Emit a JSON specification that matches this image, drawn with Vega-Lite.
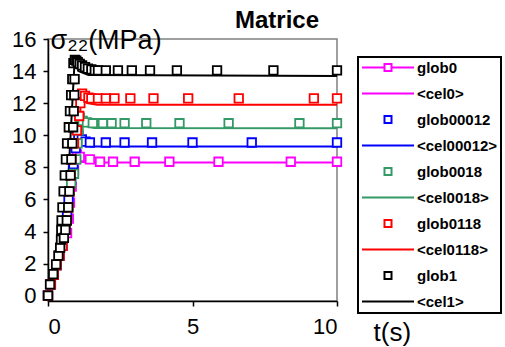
{
  "$schema": "https://vega.github.io/schema/vega-lite/v6.json",
  "width": 289,
  "height": 262,
  "autosize": {"type": "none"},
  "padding": {"left": 48, "top": 39, "right": 168, "bottom": 46},
  "background": "white",
  "config": {
    "font": "Liberation Sans",
    "view": {"stroke": "#808080", "strokeWidth": 1.5}
  },
  "title": {
    "text": "Matrice",
    "anchor": "start",
    "frame": "group",
    "dx": 187,
    "dy": 35,
    "offset": 9,
    "baseline": "alphabetic",
    "fontSize": 24,
    "fontWeight": "bold",
    "font": "Liberation Sans",
    "color": "black"
  },
  "datasets": {
    "glob": [
      {"s": "glob0", "t": 0, "v": 0}, {"s": "glob0", "t": 0.1, "v": 0.7}, {"s": "glob0", "t": 0.2, "v": 1.3}, {"s": "glob0", "t": 0.3, "v": 1.9}, {"s": "glob0", "t": 0.4, "v": 2.5}, {"s": "glob0", "t": 0.5, "v": 3.1}, {"s": "glob0", "t": 0.66, "v": 3.9}, {"s": "glob0", "t": 0.72, "v": 4.8}, {"s": "glob0", "t": 0.76, "v": 5.8}, {"s": "glob0", "t": 0.82, "v": 6.8}, {"s": "glob0", "t": 0.9, "v": 7.8}, {"s": "glob0", "t": 0.96, "v": 8.5}, {"s": "glob0", "t": 1.0, "v": 8.8}, {"s": "glob0", "t": 1.1, "v": 8.65}, {"s": "glob0", "t": 1.45, "v": 8.5}, {"s": "glob0", "t": 1.8, "v": 8.35}, {"s": "glob0", "t": 2.25, "v": 8.35}, {"s": "glob0", "t": 3.0, "v": 8.35}, {"s": "glob0", "t": 4.2, "v": 8.35}, {"s": "glob0", "t": 5.9, "v": 8.35}, {"s": "glob0", "t": 8.4, "v": 8.35}, {"s": "glob0", "t": 10, "v": 8.35},
      {"s": "glob00012", "t": 0, "v": 0}, {"s": "glob00012", "t": 0.1, "v": 0.7}, {"s": "glob00012", "t": 0.2, "v": 1.3}, {"s": "glob00012", "t": 0.3, "v": 1.9}, {"s": "glob00012", "t": 0.4, "v": 2.5}, {"s": "glob00012", "t": 0.5, "v": 3.1}, {"s": "glob00012", "t": 0.6, "v": 4.1}, {"s": "glob00012", "t": 0.66, "v": 5.0}, {"s": "glob00012", "t": 0.71, "v": 6.0}, {"s": "glob00012", "t": 0.8, "v": 7.2}, {"s": "glob00012", "t": 0.88, "v": 8.2}, {"s": "glob00012", "t": 0.96, "v": 9.2}, {"s": "glob00012", "t": 1.05, "v": 10.0}, {"s": "glob00012", "t": 1.17, "v": 9.75}, {"s": "glob00012", "t": 1.3, "v": 9.6}, {"s": "glob00012", "t": 1.45, "v": 9.55}, {"s": "glob00012", "t": 2.0, "v": 9.55}, {"s": "glob00012", "t": 2.65, "v": 9.55}, {"s": "glob00012", "t": 3.6, "v": 9.55}, {"s": "glob00012", "t": 5.0, "v": 9.55}, {"s": "glob00012", "t": 7.05, "v": 9.55}, {"s": "glob00012", "t": 10, "v": 9.55},
      {"s": "glob0018", "t": 0, "v": 0}, {"s": "glob0018", "t": 0.1, "v": 0.7}, {"s": "glob0018", "t": 0.2, "v": 1.3}, {"s": "glob0018", "t": 0.3, "v": 1.9}, {"s": "glob0018", "t": 0.4, "v": 2.5}, {"s": "glob0018", "t": 0.5, "v": 3.1}, {"s": "glob0018", "t": 0.6, "v": 4.1}, {"s": "glob0018", "t": 0.65, "v": 4.7}, {"s": "glob0018", "t": 0.7, "v": 5.5}, {"s": "glob0018", "t": 0.74, "v": 6.5}, {"s": "glob0018", "t": 0.8, "v": 7.0}, {"s": "glob0018", "t": 0.9, "v": 7.6}, {"s": "glob0018", "t": 0.98, "v": 8.5}, {"s": "glob0018", "t": 1.02, "v": 9.5}, {"s": "glob0018", "t": 1.06, "v": 10.3}, {"s": "glob0018", "t": 1.1, "v": 11.1}, {"s": "glob0018", "t": 1.2, "v": 10.9}, {"s": "glob0018", "t": 1.35, "v": 10.8}, {"s": "glob0018", "t": 1.55, "v": 10.75}, {"s": "glob0018", "t": 1.9, "v": 10.75}, {"s": "glob0018", "t": 2.2, "v": 10.75}, {"s": "glob0018", "t": 2.65, "v": 10.75}, {"s": "glob0018", "t": 3.4, "v": 10.75}, {"s": "glob0018", "t": 4.55, "v": 10.75}, {"s": "glob0018", "t": 6.25, "v": 10.75}, {"s": "glob0018", "t": 8.7, "v": 10.75}, {"s": "glob0018", "t": 10, "v": 10.75},
      {"s": "glob0118", "t": 0, "v": 0}, {"s": "glob0118", "t": 0.1, "v": 0.7}, {"s": "glob0118", "t": 0.2, "v": 1.3}, {"s": "glob0118", "t": 0.3, "v": 1.9}, {"s": "glob0118", "t": 0.4, "v": 2.5}, {"s": "glob0118", "t": 0.5, "v": 3.1}, {"s": "glob0118", "t": 0.6, "v": 4.1}, {"s": "glob0118", "t": 0.65, "v": 4.7}, {"s": "glob0118", "t": 0.7, "v": 5.5}, {"s": "glob0118", "t": 0.74, "v": 6.5}, {"s": "glob0118", "t": 0.78, "v": 7.5}, {"s": "glob0118", "t": 0.81, "v": 8.5}, {"s": "glob0118", "t": 0.9, "v": 9.5}, {"s": "glob0118", "t": 1.0, "v": 10.3}, {"s": "glob0118", "t": 1.08, "v": 11.2}, {"s": "glob0118", "t": 1.12, "v": 12.0}, {"s": "glob0118", "t": 1.18, "v": 12.6}, {"s": "glob0118", "t": 1.28, "v": 12.45}, {"s": "glob0118", "t": 1.4, "v": 12.35}, {"s": "glob0118", "t": 1.5, "v": 12.3}, {"s": "glob0118", "t": 1.73, "v": 12.3}, {"s": "glob0118", "t": 2.0, "v": 12.3}, {"s": "glob0118", "t": 2.3, "v": 12.3}, {"s": "glob0118", "t": 2.85, "v": 12.3}, {"s": "glob0118", "t": 3.65, "v": 12.3}, {"s": "glob0118", "t": 4.85, "v": 12.3}, {"s": "glob0118", "t": 6.6, "v": 12.3}, {"s": "glob0118", "t": 9.2, "v": 12.3}, {"s": "glob0118", "t": 10, "v": 12.3},
      {"s": "glob1", "t": 0, "v": 0}, {"s": "glob1", "t": 0.07, "v": 0.7}, {"s": "glob1", "t": 0.18, "v": 1.35}, {"s": "glob1", "t": 0.28, "v": 1.95}, {"s": "glob1", "t": 0.36, "v": 2.5}, {"s": "glob1", "t": 0.42, "v": 3.0}, {"s": "glob1", "t": 0.45, "v": 3.5}, {"s": "glob1", "t": 0.46, "v": 4.1}, {"s": "glob1", "t": 0.47, "v": 4.7}, {"s": "glob1", "t": 0.5, "v": 5.5}, {"s": "glob1", "t": 0.54, "v": 6.5}, {"s": "glob1", "t": 0.58, "v": 7.5}, {"s": "glob1", "t": 0.62, "v": 8.5}, {"s": "glob1", "t": 0.66, "v": 9.5}, {"s": "glob1", "t": 0.72, "v": 10.5}, {"s": "glob1", "t": 0.76, "v": 11.5}, {"s": "glob1", "t": 0.8, "v": 12.5}, {"s": "glob1", "t": 0.84, "v": 13.5}, {"s": "glob1", "t": 0.88, "v": 14.5},
      {"s": "glob1", "t": 0.55, "v": 3.6}, {"s": "glob1", "t": 0.6, "v": 4.1}, {"s": "glob1", "t": 0.65, "v": 4.7}, {"s": "glob1", "t": 0.7, "v": 5.5}, {"s": "glob1", "t": 0.74, "v": 6.5}, {"s": "glob1", "t": 0.78, "v": 7.5}, {"s": "glob1", "t": 0.81, "v": 8.5}, {"s": "glob1", "t": 0.84, "v": 9.5}, {"s": "glob1", "t": 0.87, "v": 10.5}, {"s": "glob1", "t": 0.89, "v": 11.5}, {"s": "glob1", "t": 0.91, "v": 12.5}, {"s": "glob1", "t": 0.92, "v": 13.5}, {"s": "glob1", "t": 0.93, "v": 14.7},
      {"s": "glob1", "t": 0.98, "v": 14.65}, {"s": "glob1", "t": 1.03, "v": 14.55}, {"s": "glob1", "t": 1.1, "v": 14.45}, {"s": "glob1", "t": 1.18, "v": 14.35}, {"s": "glob1", "t": 1.28, "v": 14.25}, {"s": "glob1", "t": 1.38, "v": 14.15}, {"s": "glob1", "t": 1.5, "v": 14.1}, {"s": "glob1", "t": 1.62, "v": 14.05}, {"s": "glob1", "t": 1.73, "v": 14.05}, {"s": "glob1", "t": 2.0, "v": 14.05}, {"s": "glob1", "t": 2.42, "v": 14.05}, {"s": "glob1", "t": 2.9, "v": 14.05}, {"s": "glob1", "t": 3.53, "v": 14.05}, {"s": "glob1", "t": 4.46, "v": 14.05}, {"s": "glob1", "t": 5.85, "v": 14.05}, {"s": "glob1", "t": 7.8, "v": 14.05}, {"s": "glob1", "t": 10, "v": 14.05}
    ],
    "cel": [
      {"s": "<cel0>", "t": 0, "v": 0}, {"s": "<cel0>", "t": 0.5, "v": 3.1}, {"s": "<cel0>", "t": 0.66, "v": 3.9}, {"s": "<cel0>", "t": 0.82, "v": 6.8}, {"s": "<cel0>", "t": 1.0, "v": 8.6}, {"s": "<cel0>", "t": 1.1, "v": 8.35}, {"s": "<cel0>", "t": 1.5, "v": 8.3}, {"s": "<cel0>", "t": 10, "v": 8.3},
      {"s": "<cel00012>", "t": 0, "v": 0}, {"s": "<cel00012>", "t": 0.5, "v": 3.1}, {"s": "<cel00012>", "t": 0.71, "v": 6.0}, {"s": "<cel00012>", "t": 0.96, "v": 9.2}, {"s": "<cel00012>", "t": 1.06, "v": 9.9}, {"s": "<cel00012>", "t": 1.2, "v": 9.4}, {"s": "<cel00012>", "t": 1.5, "v": 9.3}, {"s": "<cel00012>", "t": 10, "v": 9.3},
      {"s": "<cel0018>", "t": 0, "v": 0}, {"s": "<cel0018>", "t": 0.5, "v": 3.1}, {"s": "<cel0018>", "t": 0.74, "v": 6.5}, {"s": "<cel0018>", "t": 1.0, "v": 7.7}, {"s": "<cel0018>", "t": 1.1, "v": 11.0}, {"s": "<cel0018>", "t": 1.25, "v": 10.6}, {"s": "<cel0018>", "t": 1.6, "v": 10.45}, {"s": "<cel0018>", "t": 10, "v": 10.44},
      {"s": "<cel0118>", "t": 0, "v": 0}, {"s": "<cel0118>", "t": 0.5, "v": 3.1}, {"s": "<cel0118>", "t": 0.81, "v": 8.5}, {"s": "<cel0118>", "t": 1.1, "v": 9.7}, {"s": "<cel0118>", "t": 1.13, "v": 12.5}, {"s": "<cel0118>", "t": 1.35, "v": 12.0}, {"s": "<cel0118>", "t": 1.7, "v": 11.9}, {"s": "<cel0118>", "t": 10, "v": 11.9},
      {"s": "<cel1>", "t": 0, "v": 0}, {"s": "<cel1>", "t": 0.5, "v": 4.0}, {"s": "<cel1>", "t": 0.7, "v": 7.3}, {"s": "<cel1>", "t": 0.92, "v": 14.6}, {"s": "<cel1>", "t": 1.05, "v": 14.0}, {"s": "<cel1>", "t": 1.4, "v": 13.75}, {"s": "<cel1>", "t": 10, "v": 13.7}
    ]
  },
  "encoding": {
    "x": {
      "field": "t", "type": "quantitative",
      "scale": {"domain": [0, 10], "nice": false, "zero": false},
      "axis": {
        "values": [0, 5, 10], "grid": false, "domainColor": "black", "domainWidth": 1.5,
        "tickColor": "black", "tickSize": 5, "tickWidth": 1.5,
        "labelFontSize": 22, "labelColor": "black", "labelPadding": 10, "labelFont": "Liberation Sans",
        "title": "t(s)", "titleFontSize": 26, "titleFontWeight": "normal", "titleColor": "black",
        "titleX": 325, "titleY": 39, "titleAlign": "left", "titleBaseline": "alphabetic", "titleFont": "Liberation Sans"
      }
    },
    "y": {
      "field": "v", "type": "quantitative",
      "scale": {"domain": [-0.33, 16], "nice": false, "zero": false},
      "axis": {
        "values": [0, 2, 4, 6, 8, 10, 12, 14, 16], "grid": false, "domainColor": "black", "domainWidth": 1.5,
        "tickColor": "black", "tickSize": 5, "tickWidth": 1.5,
        "labelFontSize": 22, "labelColor": "black", "labelPadding": 7, "labelFont": "Liberation Sans",
        "title": "σ₂₂(MPa)", "titleFontSize": 27, "titleFontWeight": "normal", "titleColor": "black",
        "titleAngle": 0, "titleX": 2, "titleY": 9, "titleAlign": "left", "titleBaseline": "alphabetic", "titleFont": "Liberation Sans"
      }
    },
    "stroke": {
      "field": "s", "type": "nominal",
      "scale": {
        "domain": ["glob0", "<cel0>", "glob00012", "<cel00012>", "glob0018", "<cel0018>", "glob0118", "<cel0118>", "glob1", "<cel1>"],
        "range": ["#FF00FF", "#FF00FF", "#0000FF", "#0000FF", "#339966", "#339966", "#FF0000", "#FF0000", "#000000", "#000000"]
      },
      "legend": {
        "title": null,
        "orient": "none",
        "legendX": 310,
        "legendY": 18,
        "padding": 3,
        "symbolSize": 2704,
        "clipHeight": 15,
        "rowPadding": 10,
        "labelOffset": 2,
        "labelFont": "Liberation Sans",
        "labelFontSize": 15,
        "labelFontWeight": "bold",
        "labelColor": "black",
        "strokeColor": "black",
        "symbolStrokeWidth": 2,
        "encode": {
          "legend": {"update": {"stroke": {"value": "black"}, "strokeWidth": {"value": 2}}},
          "symbols": {
            "update": {
              "shape": {"signal": "indexof(['<cel0>','<cel00012>','<cel0018>','<cel0118>','<cel1>'], datum.value) >= 0 ? 'stroke' : (datum.value == 'glob0' ? 'M-1,0H-0.135M0.135,0H1M-0.135,-0.135H0.135V0.135H-0.135Z' : 'M-0.135,-0.135H0.135V0.135H-0.135Z')"},
              "fill": {"value": "white"},
              "strokeWidth": {"value": 2},
              "opacity": {"value": 1}
            }
          }
        }
      }
    }
  },
  "layer": [
    {
      "data": {"name": "cel"},
      "mark": {"type": "line", "strokeWidth": 2},
      "encoding": {"detail": {"field": "s"}, "order": {"field": "t", "type": "quantitative"}}
    },
    {
      "data": {"name": "glob"},
      "mark": {"type": "point", "shape": "square", "filled": false, "fill": "white", "fillOpacity": 1, "size": 72, "strokeWidth": 1.8, "opacity": 1}
    }
  ]
}
